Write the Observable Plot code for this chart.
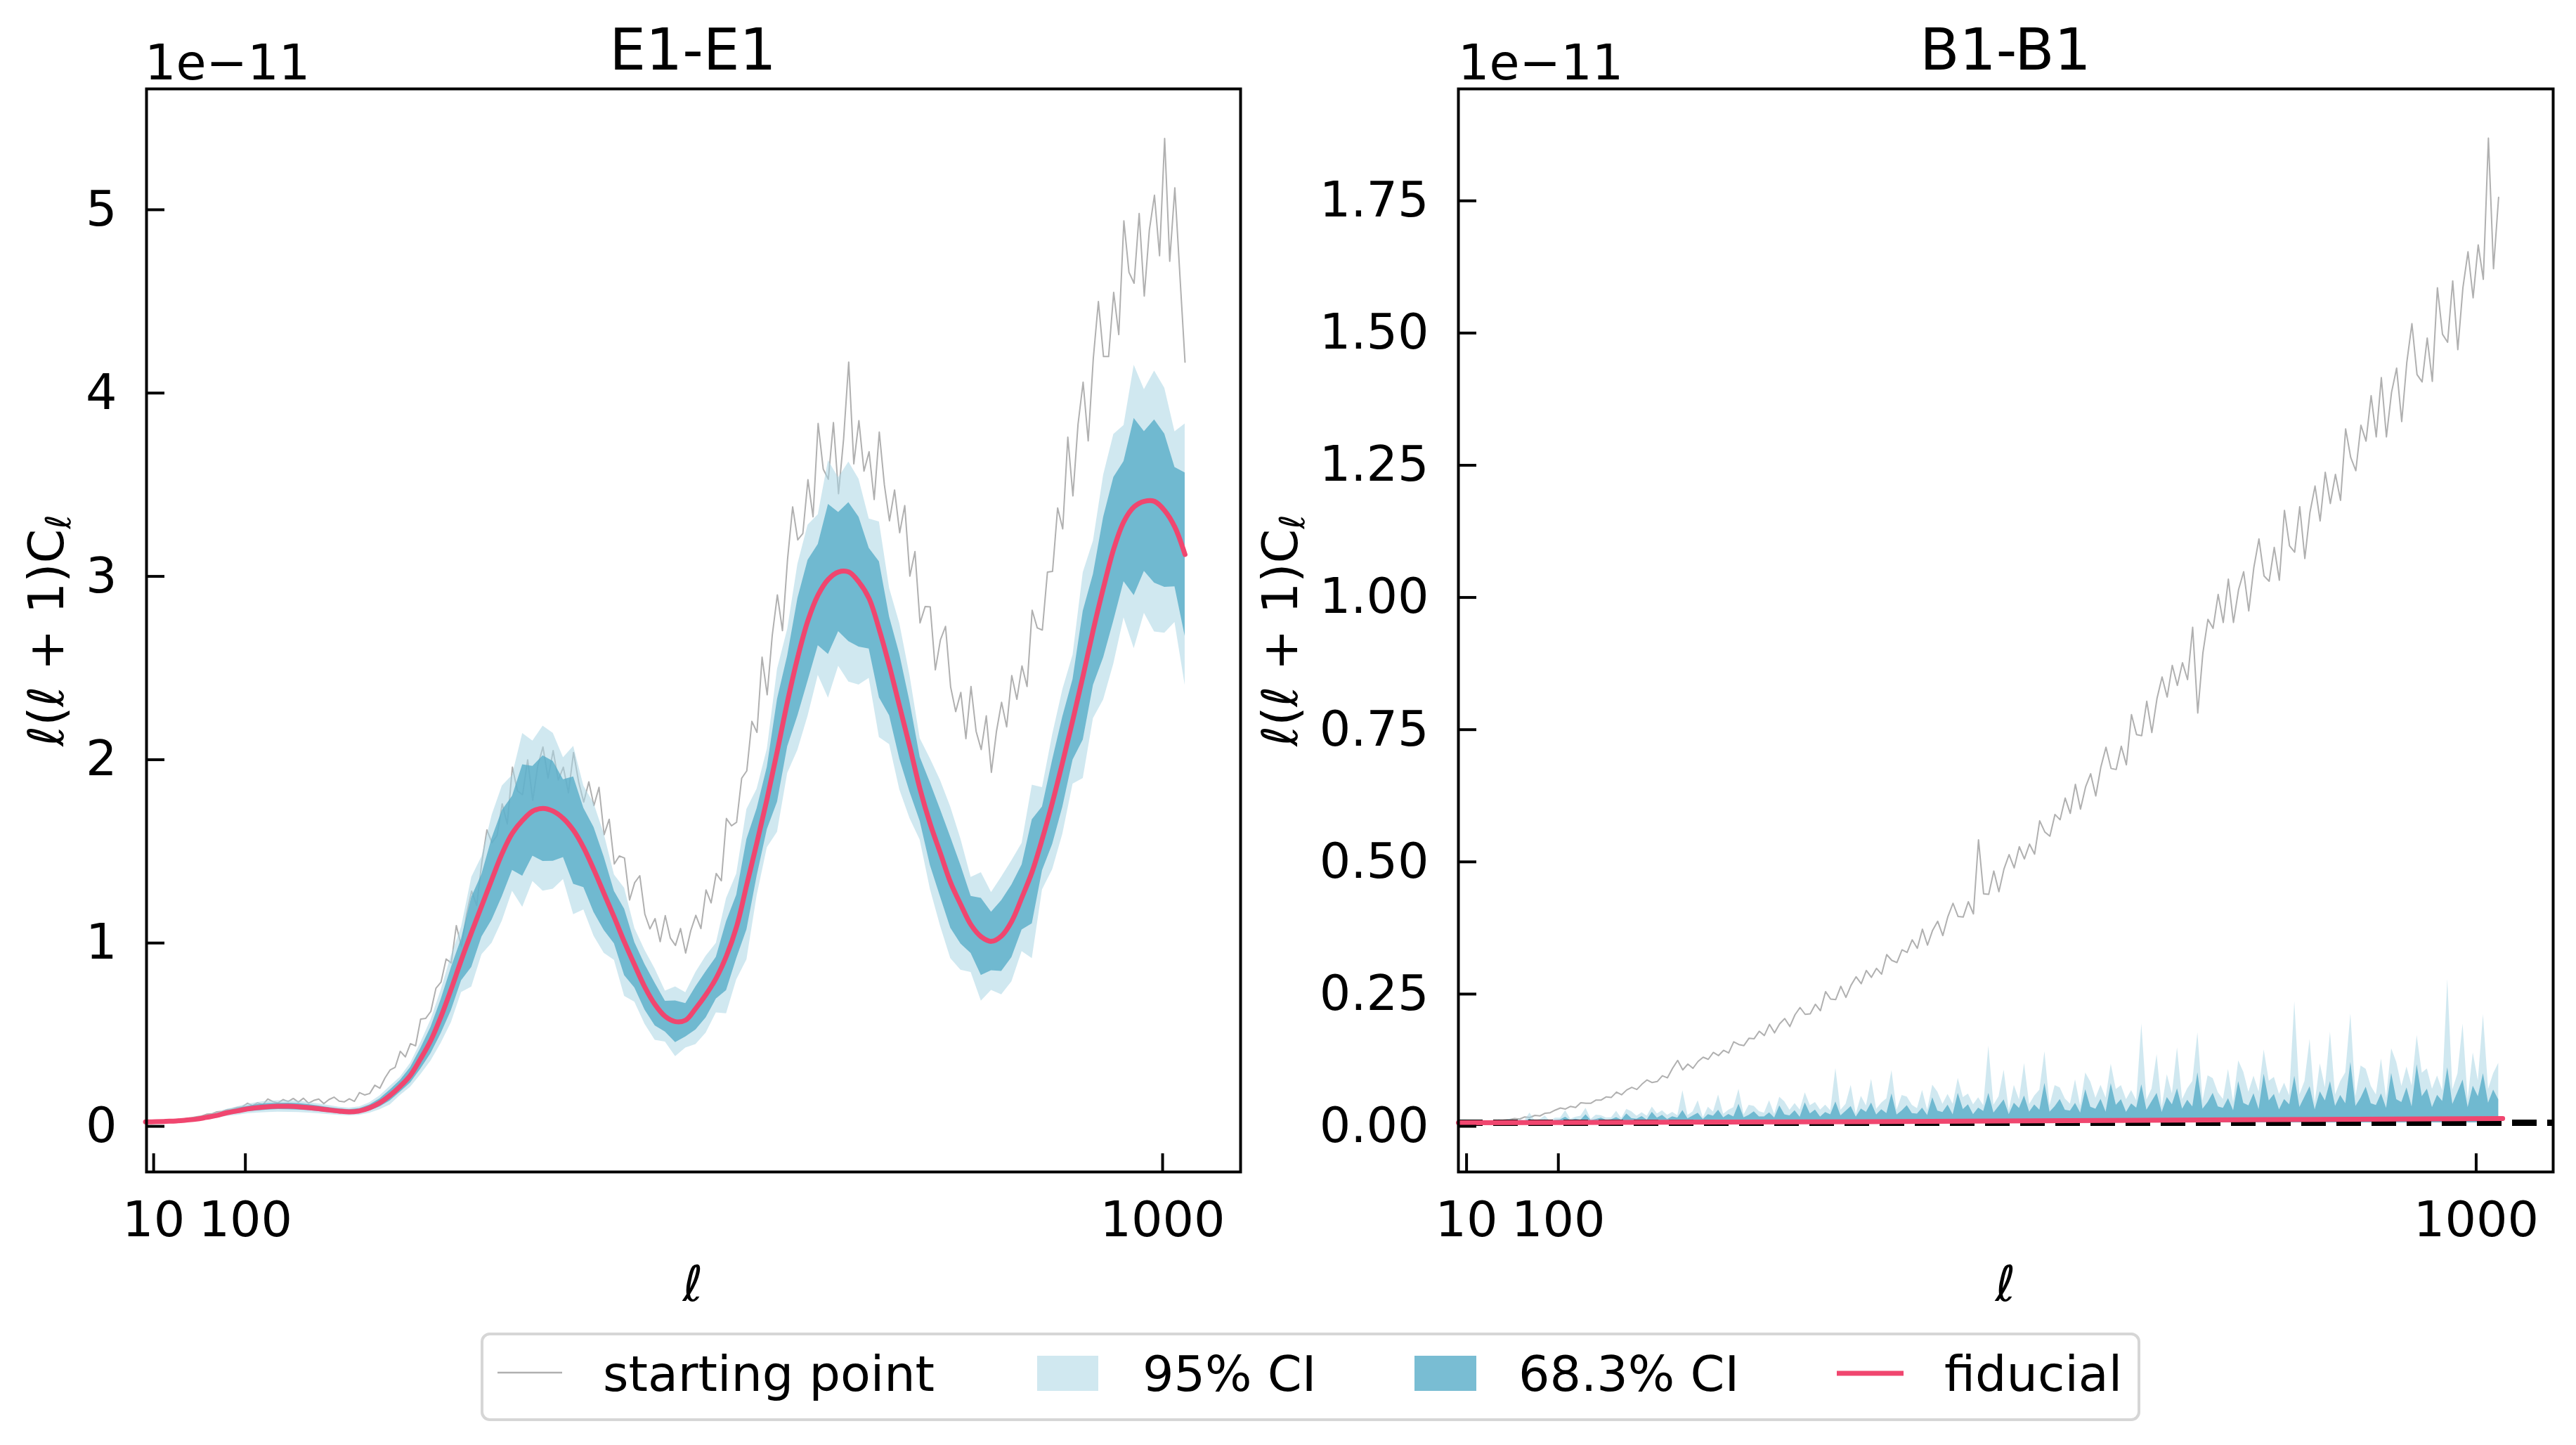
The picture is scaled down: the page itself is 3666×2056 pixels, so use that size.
<!DOCTYPE html>
<html>
<head>
<meta charset="utf-8">
<script src="https://cdn.jsdelivr.net/npm/d3@7"></script>
<script src="https://cdn.jsdelivr.net/npm/@observablehq/plot@0.6"></script>
<style>
html, body { margin: 0; padding: 0; background: #fff; }
#page { position: relative; width: 3666px; height: 2056px; background: #fff; overflow: hidden; font-family: "DejaVu Sans"; }
#page > svg { position: absolute; }
</style>
</head>
<body>
<div id="page"></div>
<script>
// ---------------- DATA (values in units of 1e-11) ----------------
const panelTitles = ["E1-E1", "B1-B1"];
const legendLabels = ["starting point", "95% CI", "68.3% CI", "fiducial"];
const xTicks = [10, 100, 1000];
const yTicksE = [0, 1, 2, 3, 4, 5];
const yTicksB = [0, 0.25, 0.5, 0.75, 1.0, 1.25, 1.5, 1.75];
const zeroLine = [0];

// multipole sampling grids
const ellFine = d3.range(2, 1023, 5);   // 205 samples
const ellBand = d3.range(2, 1023, 10);  // 103 samples

// E1-E1 starting point (noisy)
const startE = [
0.005,0.006,0.007,0.009,0.011,0.013,0.016,0.019,0.023,0.027,
0.033,0.037,0.047,0.049,0.060,0.063,0.071,0.075,0.084,0.087,
0.107,0.094,0.109,0.098,0.130,0.116,0.108,0.127,0.116,0.133,
0.113,0.134,0.107,0.122,0.130,0.105,0.127,0.140,0.118,0.114,
0.131,0.117,0.165,0.152,0.160,0.205,0.189,0.245,0.288,0.303,
0.390,0.360,0.432,0.420,0.566,0.570,0.608,0.734,0.768,0.894,
0.872,1.076,0.962,1.136,1.264,1.186,1.420,1.598,1.528,1.568,
1.740,1.630,1.940,1.810,1.790,1.980,1.760,1.950,2.050,1.880,
2.030,1.870,1.940,1.800,2.020,1.860,1.750,1.860,1.730,1.830,
1.572,1.656,1.412,1.456,1.444,1.216,1.310,1.348,1.138,1.058,
1.114,0.988,1.130,1.008,0.968,1.060,0.926,1.048,1.132,1.060,
1.270,1.200,1.360,1.320,1.660,1.620,1.640,1.880,1.920,2.190,
2.130,2.540,2.335,2.660,2.880,2.685,3.075,3.360,3.180,3.215,
3.508,3.306,3.815,3.566,3.511,3.820,3.432,3.731,4.150,3.595,
3.830,3.555,3.661,3.400,3.768,3.480,3.284,3.452,3.219,3.367,
2.982,3.116,2.727,2.816,2.814,2.471,2.635,2.708,2.378,2.243,
2.348,2.096,2.380,2.136,2.036,2.220,1.912,2.136,2.294,2.160,
2.440,2.310,2.492,2.380,2.796,2.700,2.688,3.004,3.008,3.354,
3.240,3.740,3.420,3.810,4.040,3.720,4.170,4.480,4.180,4.180,
4.530,4.300,4.920,4.640,4.580,4.960,4.510,4.870,5.060,4.730,
5.370,4.700,5.100,4.620,4.150];

// E1-E1 fiducial
const fidE = [
0.005,0.006,0.008,0.010,0.015,0.020,0.030,0.040,0.055,0.065,
0.076,0.083,0.088,0.090,0.090,0.088,0.083,0.077,0.070,0.064,
0.060,0.065,0.082,0.110,0.150,0.200,0.260,0.350,0.450,0.580,
0.730,0.890,1.040,1.185,1.330,1.470,1.580,1.650,1.700,1.715,
1.700,1.660,1.595,1.500,1.380,1.250,1.120,0.985,0.860,0.740,
0.645,0.580,0.552,0.560,0.625,0.700,0.790,0.910,1.070,1.300,
1.530,1.770,2.030,2.300,2.540,2.740,2.880,2.965,3.005,3.005,
2.950,2.860,2.690,2.490,2.270,2.050,1.820,1.630,1.470,1.310,
1.190,1.080,1.015,0.990,1.020,1.100,1.230,1.370,1.550,1.750,
1.970,2.200,2.440,2.690,2.920,3.130,3.280,3.360,3.390,3.390,
3.340,3.250,3.100];

// E1-E1 credible intervals
const lo95E = [
.003,.004,.005,.006,.010,.013,.020,.026,.036,.042,
.050,.054,.057,.059,.058,.057,.054,.050,.045,.042,
.039,.042,.053,.072,.098,.150,.195,.263,.338,.435,
.547,.712,.741,.918,.981,1.102,1.264,1.176,1.317,1.265,
1.275,1.328,1.136,1.162,1.018,.925,.887,.690,.659,.538,
.451,.441,.362,.409,.428,.490,.600,.596,.781,.890,
1.239,1.501,1.586,1.907,2.033,2.219,2.442,2.317,2.491,2.405,
2.389,2.425,2.102,2.064,1.817,1.660,1.543,1.274,1.073,.897,
.833,.821,.665,.723,.699,.770,.935,.897,1.271,1.382,
1.576,1.848,1.879,2.206,2.307,2.504,2.755,2.587,2.780,2.678,
2.672,2.730,2.387];
const lo68E = [
.004,.005,.006,.008,.012,.016,.024,.032,.044,.052,
.062,.066,.070,.073,.072,.070,.067,.062,.056,.051,
.048,.052,.066,.088,.120,.168,.218,.294,.378,.487,
.613,.776,.849,1.014,1.107,1.235,1.378,1.346,1.455,1.427,
1.428,1.448,1.302,1.284,1.148,1.050,.977,.804,.736,.616,
.529,.496,.438,.469,.507,.574,.676,.722,.897,1.054,
1.346,1.600,1.750,2.052,2.220,2.411,2.604,2.556,2.680,2.626,
2.596,2.585,2.319,2.221,1.984,1.804,1.645,1.405,1.232,1.062,
.976,.924,.805,.830,.827,.902,1.053,1.086,1.376,1.520,
1.724,1.980,2.089,2.387,2.537,2.739,2.952,2.877,3.009,2.945,
2.922,2.925,2.654];
const hi68E = [
.006,.007,.010,.012,.018,.024,.036,.048,.066,.078,
.090,.100,.106,.107,.108,.106,.100,.092,.084,.077,
.072,.078,.098,.132,.180,.232,.302,.406,.522,.673,
.847,1.004,1.231,1.356,1.553,1.705,1.782,1.954,1.945,2.003,
1.972,1.872,1.888,1.716,1.612,1.450,1.263,1.166,.984,.864,
.761,.664,.666,.651,.743,.826,.904,1.098,1.243,1.546,
1.714,1.940,2.310,2.548,2.860,3.069,3.156,3.374,3.330,3.384,
3.304,3.135,3.061,2.759,2.556,2.296,1.995,1.855,1.708,1.558,
1.404,1.236,1.225,1.150,1.213,1.298,1.407,1.654,1.724,1.980,
2.216,2.420,2.791,2.993,3.303,3.521,3.608,3.843,3.771,3.835,
3.758,3.575,3.546];
const hi95E = [
.007,.008,.011,.014,.020,.027,.040,.054,.074,.088,
.102,.112,.119,.121,.122,.119,.112,.104,.095,.086,
.081,.088,.111,.148,.200,.250,.325,.437,.562,.725,
.913,1.068,1.339,1.452,1.679,1.838,1.896,2.124,2.083,2.165,
2.125,1.992,2.054,1.838,1.742,1.575,1.353,1.280,1.061,.942,
.839,.719,.742,.711,.822,.910,.980,1.224,1.359,1.710,
1.821,2.039,2.474,2.693,3.047,3.261,3.318,3.613,3.519,3.605,
3.511,3.295,3.278,2.916,2.723,2.440,2.097,1.986,1.867,1.723,
1.547,1.339,1.365,1.257,1.341,1.430,1.525,1.843,1.829,2.118,
2.364,2.552,3.001,3.174,3.533,3.756,3.805,4.133,4.000,4.102,
4.008,3.770,3.813];

// B1-B1 starting point (noisy)
const startB = [
0.000,0.000,0.001,0.001,0.002,0.002,0.003,0.003,0.004,0.005,
0.006,0.008,0.007,0.011,0.010,0.014,0.013,0.018,0.019,0.024,
0.028,0.026,0.031,0.029,0.038,0.037,0.037,0.043,0.043,0.049,
0.048,0.058,0.053,0.062,0.067,0.063,0.073,0.081,0.076,0.078,
0.089,0.085,0.103,0.118,0.100,0.111,0.103,0.116,0.124,0.120,
0.133,0.127,0.137,0.132,0.153,0.148,0.146,0.160,0.159,0.173,
0.165,0.186,0.170,0.187,0.197,0.182,0.204,0.218,0.205,0.206,
0.224,0.212,0.248,0.234,0.233,0.258,0.237,0.260,0.276,0.263,
0.288,0.275,0.292,0.281,0.318,0.307,0.303,0.327,0.322,0.346,
0.330,0.366,0.336,0.364,0.381,0.354,0.390,0.415,0.390,0.389,
0.418,0.395,0.535,0.433,0.432,0.476,0.437,0.480,0.507,0.482,
0.522,0.499,0.527,0.508,0.571,0.550,0.542,0.583,0.573,0.614,
0.585,0.640,0.593,0.635,0.660,0.618,0.673,0.710,0.670,0.668,
0.712,0.677,0.772,0.734,0.732,0.797,0.738,0.802,0.843,0.805,
0.865,0.827,0.870,0.838,0.937,0.775,0.888,0.952,0.935,0.999,
0.946,1.028,0.946,1.008,1.042,0.968,1.050,1.104,1.034,1.024,
1.088,1.026,1.158,1.091,1.079,1.165,1.067,1.154,1.204,1.138,
1.230,1.171,1.226,1.177,1.312,1.258,1.233,1.319,1.289,1.375,
1.297,1.409,1.297,1.381,1.427,1.326,1.438,1.511,1.415,1.401,
1.484,1.402,1.579,1.491,1.476,1.592,1.462,1.579,1.647,1.560,
1.660,1.595,1.862,1.615,1.750];

// B1-B1 credible intervals (upper edges; lower edges at 0)
const hi68B = [
.0012,.0020,.0010,.0034,.0016,.0014,.0024,.0011,.0040,.0018,
.0044,.0020,.0036,.0028,.0072,.0024,.0040,.0056,.0020,.0048,
.0056,.0105,.0042,.0070,.0049,.0154,.0042,.0063,.0091,.0049,
.0060,.0100,.0050,.0170,.0080,.0070,.0120,.0055,.0200,.0090,
.0143,.0065,.0117,.0091,.0234,.0078,.0130,.0182,.0065,.0156,
.0128,.0240,.0096,.0160,.0112,.0352,.0096,.0144,.0208,.0112,
.0114,.0190,.0095,.0323,.0152,.0133,.0228,.0105,.0380,.0171,
.0242,.0110,.0198,.0154,.0396,.0132,.0220,.0308,.0110,.0264,
.0200,.0375,.0150,.0250,.0175,.0550,.0150,.0225,.0325,.0175,
.0168,.0280,.0140,.0476,.0224,.0196,.0336,.0154,.0560,.0252,
.0341,.0155,.0279,.0217,.0558,.0186,.0310,.0434,.0155,.0372,
.0272,.0510,.0204,.0340,.0238,.0748,.0204,.0306,.0442,.0238,
.0222,.0370,.0185,.0629,.0296,.0259,.0444,.0204,.0740,.0333,
.0440,.0200,.0360,.0280,.0720,.0240,.0400,.0560,.0200,.0480,
.0344,.0645,.0258,.0430,.0301,.0946,.0258,.0387,.0559,.0301,
.0276,.0460,.0230,.0782,.0368,.0322,.0552,.0253,.0920,.0414,
.0539,.0245,.0441,.0343,.0882,.0294,.0490,.0686,.0245,.0588,
.0416,.0780,.0312,.0520,.0364,.1144,.0312,.0468,.0676,.0364,
.0330,.0550,.0275,.0935,.0440,.0385,.0660,.0303,.1100,.0495,
.0638,.0290,.0522,.0406,.1044,.0348,.0580,.0812,.0290,.0696,
.0496,.0930,.0372,.0620,.0434];
const hi95B = [
.0020,.0044,.0017,.0051,.0042,.0025,.0038,.0025,.0060,.0034,
.0070,.0044,.0061,.0042,.0187,.0043,.0064,.0129,.0030,.0091,
.0090,.0231,.0071,.0105,.0127,.0277,.0067,.0145,.0137,.0093,
.0096,.0220,.0085,.0255,.0208,.0126,.0192,.0127,.0300,.0171,
.0229,.0143,.0199,.0137,.0608,.0140,.0208,.0419,.0098,.0296,
.0205,.0528,.0163,.0240,.0291,.0634,.0154,.0331,.0312,.0213,
.0182,.0418,.0162,.0485,.0395,.0239,.0365,.0242,.0570,.0325,
.0387,.0242,.0337,.0231,.1030,.0238,.0352,.0708,.0165,.0502,
.0320,.0825,.0255,.0375,.0455,.0990,.0240,.0518,.0488,.0333,
.0269,.0616,.0238,.0714,.0582,.0353,.0538,.0354,.0840,.0479,
.0546,.0341,.0474,.0326,.1451,.0335,.0496,.0998,.0233,.0707,
.0435,.1122,.0347,.0510,.0619,.1346,.0326,.0704,.0663,.0452,
.0355,.0814,.0315,.0944,.0770,.0466,.0710,.0469,.1110,.0633,
.0704,.0440,.0612,.0420,.1872,.0432,.0640,.1288,.0300,.0912,
.0550,.1419,.0439,.0645,.0783,.1703,.0413,.0890,.0839,.0572,
.0442,.1012,.0391,.1173,.0957,.0580,.0883,.0582,.1380,.0787,
.0862,.0539,.0750,.0515,.2293,.0529,.0784,.1578,.0368,.1117,
.0666,.1716,.0530,.0780,.0946,.2059,.0499,.1076,.1014,.0692,
.0528,.1210,.0468,.1403,.1144,.0693,.1056,.0697,.1650,.0941,
.1021,.0638,.0887,.0609,.2714,.0626,.0928,.1868,.0435,.1322,
.0794,.2046,.0632,.0930,.1128];

// B1-B1 fiducial
const ellFidB = [2, 200, 400, 600, 800, 1026];
const fidB = [0.000, 0.001, 0.002, 0.004, 0.006, 0.008];

// ---------------- STYLE ----------------
const GRAY = "#b0b0b0", RED = "#f0466f";
const C95 = "#a9d5e3", A95 = 0.55;
const C68 = "#58acc8", A68 = 0.8;
const FONT = "DejaVu Sans";

const rowsStartE = ellFine.map((ell, i) => ({ell, v: startE[i]}));
const rowsBandE = ellBand.map((ell, i) => ({ell, fid: fidE[i], lo95: lo95E[i], lo68: lo68E[i], hi68: hi68E[i], hi95: hi95E[i]}));
const rowsStartB = ellFine.map((ell, i) => ({ell, v: startB[i], hi68: hi68B[i], hi95: hi95B[i]}));
const rowsFidB = ellFidB.map((ell, i) => ({ell, v: fidB[i]}));

const page = document.getElementById("page");
const baseStyle = {fontFamily: FONT, fontSize: "70px", color: "black", background: "transparent", overflow: "visible"};

function axes(yTicks, yFmt) {
  return [
    Plot.frame({stroke: "black", strokeWidth: 4}),
    Plot.axisY({ticks: yTicks, tickSize: -26, tickPadding: 68, strokeWidth: 4, label: null, dy: 5, fontSize: 70, tickFormat: yFmt}),
    Plot.axisX({ticks: xTicks, tickSize: -26, tickPadding: 68, strokeWidth: 4, label: null, fontSize: 70, tickFormat: d => String(d)})
  ];
}

const plotE = Plot.plot({
  width: 1800, height: 1880,
  marginLeft: 208, marginRight: 35, marginTop: 126, marginBottom: 213,
  style: baseStyle,
  x: {domain: [3, 1076.5]},
  y: {domain: [-0.268, 5.64]},
  marks: [
    Plot.line(rowsStartE, {x: "ell", y: "v", stroke: GRAY, strokeWidth: 2}),
    Plot.areaY(rowsBandE, {x: "ell", y1: "lo95", y2: "hi95", fill: C95, fillOpacity: A95}),
    Plot.areaY(rowsBandE, {x: "ell", y1: "lo68", y2: "hi68", fill: C68, fillOpacity: A68}),
    Plot.line(rowsBandE, {x: "ell", y: "fid", stroke: RED, strokeWidth: 7, curve: "catmull-rom"}),
    ...axes(yTicksE, d => String(d))
  ]
});

const plotB = Plot.plot({
  width: 1866, height: 1880,
  marginLeft: 275, marginRight: 33, marginTop: 126, marginBottom: 213,
  style: baseStyle,
  x: {domain: [2, 1075.5]},
  y: {domain: [-0.093, 1.955]},
  marks: [
    Plot.line(rowsStartB, {x: "ell", y: "v", stroke: GRAY, strokeWidth: 2}),
    Plot.areaY(rowsStartB, {x: "ell", y1: 0, y2: "hi95", fill: C95, fillOpacity: A95}),
    Plot.areaY(rowsStartB, {x: "ell", y1: 0, y2: "hi68", fill: C68, fillOpacity: A68}),
    Plot.ruleY(zeroLine, {stroke: "black", strokeWidth: 9, strokeDasharray: "35,15"}),
    Plot.line(rowsFidB, {x: "ell", y: "v", stroke: RED, strokeWidth: 7}),
    ...axes(yTicksB, d3.format(".2f"))
  ]
});

function decorate(svg, o) {
  const s = d3.select(svg);
  s.append("text").attr("x", o.cx).attr("y", 99).attr("text-anchor", "middle")
    .attr("font-family", FONT).attr("font-size", 82).attr("fill", "black").text(o.title);
  s.append("text").attr("x", o.offX).attr("y", 113).attr("text-anchor", "start")
    .attr("font-family", FONT).attr("font-size", 70).attr("fill", "black").text("1e\u221211");
  // x label
  s.append("text").attr("x", o.cx).attr("y", 1851).attr("text-anchor", "middle")
    .attr("font-family", FONT).attr("font-size", 70).attr("font-style", "italic").attr("fill", "black").text("\u2113");
  // y label
  const t = s.append("text").attr("transform", `translate(${o.ylx},897) rotate(-90)`).attr("text-anchor", "middle")
    .attr("font-family", FONT).attr("font-size", 70).attr("fill", "black");
  t.append("tspan").attr("font-style", "italic").text("\u2113");
  t.append("tspan").text("(");
  t.append("tspan").attr("font-style", "italic").text("\u2113");
  t.append("tspan").text(" + 1)C");
  t.append("tspan").attr("font-style", "italic").attr("font-size", 49).attr("dy", 10).text("\u2113");
}

decorate(plotE, {title: panelTitles[0], cx: 986, offX: 206, ylx: 90});
decorate(plotB, {title: panelTitles[1], cx: 1054, offX: 275, ylx: 46});

plotE.style.left = "0px"; plotE.style.top = "0px";
plotB.style.left = "1800px"; plotB.style.top = "0px";
page.appendChild(plotE);
page.appendChild(plotB);

// ---------------- LEGEND ----------------
const leg = d3.create("svg").attr("width", 2362).attr("height", 128)
  .style("left", "684px").style("top", "1896px").style("position", "absolute");
leg.append("rect").attr("x", 2).attr("y", 2).attr("width", 2358).attr("height", 122).attr("rx", 11)
  .attr("fill", "white").attr("stroke", "#d6d6d6").attr("stroke-width", 4);
leg.append("line").attr("x1", 24).attr("x2", 116).attr("y1", 57).attr("y2", 57).attr("stroke", GRAY).attr("stroke-width", 2.5);
leg.append("rect").attr("x", 792).attr("y", 33).attr("width", 87).attr("height", 50).attr("fill", C95).attr("fill-opacity", A95);
leg.append("rect").attr("x", 1329).attr("y", 33).attr("width", 88).attr("height", 50).attr("fill", C68).attr("fill-opacity", A68);
leg.append("line").attr("x1", 1930).attr("x2", 2025).attr("y1", 58).attr("y2", 58).attr("stroke", RED).attr("stroke-width", 7);
[[174, legendLabels[0]], [942, legendLabels[1]], [1477, legendLabels[2]], [2083, legendLabels[3]]].forEach(([x, txt]) => {
  leg.append("text").attr("x", x).attr("y", 83).attr("font-family", FONT).attr("font-size", 70).attr("fill", "black").text(txt);
});
page.appendChild(leg.node());
</script>
</body>
</html>
